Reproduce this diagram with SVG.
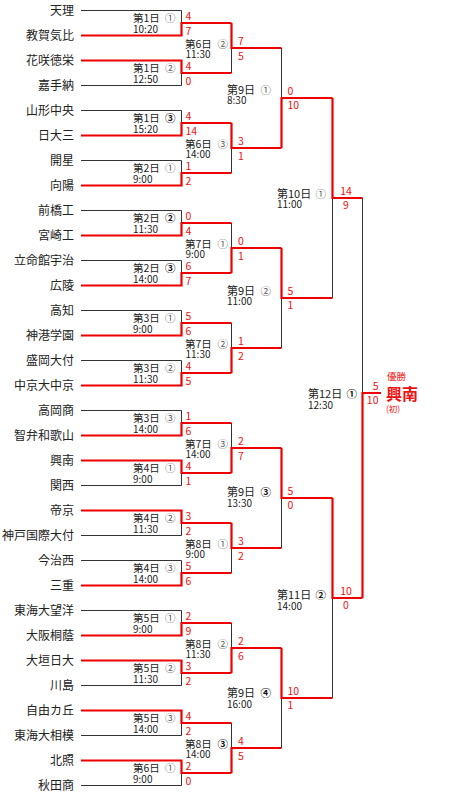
<svg xmlns="http://www.w3.org/2000/svg" width="474" height="798" viewBox="0 0 474 798">
<style>
text{font-family:"Noto Sans CJK JP","Noto Sans",sans-serif}
.bk{stroke:#333;stroke-width:1;fill:none}
.rd{stroke:#ee0000;stroke-width:2.2;fill:none}
.t{font-size:12px;fill:#222;text-anchor:end}
.m1{font-size:10.5px;fill:#222}
.m2{font-size:11px;fill:#222}
.tm{font-size:10px;fill:#222}
.c{fill:#555;font-size:10.5px}
.cb{fill:#111;font-size:10.5px;font-weight:bold}
.s{font-size:10.5px;fill:#ee1111}
.sm{font-size:10.5px;fill:#ee1111;text-anchor:middle}
.se{font-size:10.5px;fill:#ee1111;text-anchor:end}
.w{fill:#ee1111}
</style>
<rect width="474" height="798" fill="#fff"/>
<g id="connectors">
<g class="bk">
<path d="M81 10.5H181.5V23M81 85.5H181.5V73M81 110.5H181.5V123M81 160.5H181.5V173M81 210.5H181.5V223M81 260.5H181.5V273M81 310.5H181.5V323M81 360.5H181.5V373M81 410.5H181.5V423M81 485.5H181.5V473M81 535.5H181.5V523M81 560.5H181.5V573M81 610.5H181.5V623M81 685.5H181.5V673M81 735.5H181.5V723M81 785.5H181.5V773"/>
<path d="M231.5 73V48M231.5 173V148M231.5 223V248M231.5 323V348M231.5 423V448M231.5 573V548M231.5 623V648M231.5 723V748"/>
<path d="M281.5 48V98M281.5 348V298M281.5 548V498M281.5 748V698"/>
<path d="M332.5 298V198M332.5 698V598M362.5 198V393"/>
</g>
<g class="rd">
<path d="M81 35.5H181.5V23H231.5M81 60.5H181.5V73H231.5M81 135.5H181.5V123H231.5M81 185.5H181.5V173H231.5M81 235.5H181.5V223H231.5M81 285.5H181.5V273H231.5M81 335.5H181.5V323H231.5M81 385.5H181.5V373H231.5M81 435.5H181.5V423H231.5M81 460.5H181.5V473H231.5M81 510.5H181.5V523H231.5M81 585.5H181.5V573H231.5M81 635.5H181.5V623H231.5M81 660.5H181.5V673H231.5M81 710.5H181.5V723H231.5M81 760.5H181.5V773H231.5"/>
<path d="M231.5 23V48H281.5M231.5 123V148H281.5M231.5 273V248H281.5M231.5 373V348H281.5M231.5 473V448H281.5M231.5 523V548H281.5M231.5 673V648H281.5M231.5 773V748H281.5"/>
<path d="M281.5 148V98H332.5M281.5 248V298H332.5M281.5 448V498H332.5M281.5 648V698H332.5"/>
<path d="M332.5 98V198H362.5M332.5 498V598H362.5M362.5 598V393H381"/>
</g>
</g>
<g id="teams">
<g id="team-1"><text class="t" x="74" y="15">天理</text></g>
<g id="team-2"><text class="t" x="74" y="40">教賀気比</text></g>
<g id="team-3"><text class="t" x="74" y="65">花咲徳栄</text></g>
<g id="team-4"><text class="t" x="74" y="90">嘉手納</text></g>
<g id="team-5"><text class="t" x="74" y="115">山形中央</text></g>
<g id="team-6"><text class="t" x="74" y="140">日大三</text></g>
<g id="team-7"><text class="t" x="74" y="165">開星</text></g>
<g id="team-8"><text class="t" x="74" y="190">向陽</text></g>
<g id="team-9"><text class="t" x="74" y="215">前橋工</text></g>
<g id="team-10"><text class="t" x="74" y="240">宮崎工</text></g>
<g id="team-11"><text class="t" x="74" y="265">立命館宇治</text></g>
<g id="team-12"><text class="t" x="74" y="290">広陵</text></g>
<g id="team-13"><text class="t" x="74" y="315">高知</text></g>
<g id="team-14"><text class="t" x="74" y="340">神港学園</text></g>
<g id="team-15"><text class="t" x="74" y="365">盛岡大付</text></g>
<g id="team-16"><text class="t" x="74" y="390">中京大中京</text></g>
<g id="team-17"><text class="t" x="74" y="415">高岡商</text></g>
<g id="team-18"><text class="t" x="74" y="440">智弁和歌山</text></g>
<g id="team-19"><text class="t" x="74" y="465">興南</text></g>
<g id="team-20"><text class="t" x="74" y="490">関西</text></g>
<g id="team-21"><text class="t" x="74" y="515">帝京</text></g>
<g id="team-22"><text class="t" x="74" y="540">神戸国際大付</text></g>
<g id="team-23"><text class="t" x="74" y="565">今治西</text></g>
<g id="team-24"><text class="t" x="74" y="590">三重</text></g>
<g id="team-25"><text class="t" x="74" y="615">東海大望洋</text></g>
<g id="team-26"><text class="t" x="74" y="640">大阪桐蔭</text></g>
<g id="team-27"><text class="t" x="74" y="665">大垣日大</text></g>
<g id="team-28"><text class="t" x="74" y="690">川島</text></g>
<g id="team-29"><text class="t" x="74" y="715">自由カ丘</text></g>
<g id="team-30"><text class="t" x="74" y="740">東海大相模</text></g>
<g id="team-31"><text class="t" x="74" y="765">北照</text></g>
<g id="team-32"><text class="t" x="74" y="790">秋田商</text></g>
</g>
<g id="round1">
<g id="r1-1"><text class="m1" x="133" y="21.5">第1日<tspan class="c" x="165">①</tspan></text><text class="tm" x="133" y="32.5">10:20</text><text class="s" x="185.5" y="19.5">4</text><text class="s" x="185.5" y="34.5">7</text></g>
<g id="r1-2"><text class="m1" x="133" y="71.5">第1日<tspan class="c" x="165">②</tspan></text><text class="tm" x="133" y="82.5">12:50</text><text class="s" x="185.5" y="69.5">4</text><text class="s" x="185.5" y="84.5">0</text></g>
<g id="r1-3"><text class="m1" x="133" y="121.5">第1日<tspan class="cb" x="165">③</tspan></text><text class="tm" x="133" y="132.5">15:20</text><text class="s" x="185.5" y="119.5">4</text><text class="s" x="185.5" y="134.5">14</text></g>
<g id="r1-4"><text class="m1" x="133" y="171.5">第2日<tspan class="c" x="165">①</tspan></text><text class="tm" x="133" y="182.5">9:00</text><text class="s" x="185.5" y="169.5">1</text><text class="s" x="185.5" y="184.5">2</text></g>
<g id="r1-5"><text class="m1" x="133" y="221.5">第2日<tspan class="cb" x="165">②</tspan></text><text class="tm" x="133" y="232.5">11:30</text><text class="s" x="185.5" y="219.5">0</text><text class="s" x="185.5" y="234.5">4</text></g>
<g id="r1-6"><text class="m1" x="133" y="271.5">第2日<tspan class="cb" x="165">③</tspan></text><text class="tm" x="133" y="282.5">14:00</text><text class="s" x="185.5" y="269.5">6</text><text class="s" x="185.5" y="284.5">7</text></g>
<g id="r1-7"><text class="m1" x="133" y="321.5">第3日<tspan class="c" x="165">①</tspan></text><text class="tm" x="133" y="332.5">9:00</text><text class="s" x="185.5" y="319.5">5</text><text class="s" x="185.5" y="334.5">6</text></g>
<g id="r1-8"><text class="m1" x="133" y="371.5">第3日<tspan class="c" x="165">②</tspan></text><text class="tm" x="133" y="382.5">11:30</text><text class="s" x="185.5" y="369.5">4</text><text class="s" x="185.5" y="384.5">5</text></g>
<g id="r1-9"><text class="m1" x="133" y="421.5">第3日<tspan class="c" x="165">③</tspan></text><text class="tm" x="133" y="432.5">14:00</text><text class="s" x="185.5" y="419.5">1</text><text class="s" x="185.5" y="434.5">6</text></g>
<g id="r1-10"><text class="m1" x="133" y="471.5">第4日<tspan class="c" x="165">①</tspan></text><text class="tm" x="133" y="482.5">9:00</text><text class="s" x="185.5" y="469.5">4</text><text class="s" x="185.5" y="484.5">1</text></g>
<g id="r1-11"><text class="m1" x="133" y="521.5">第4日<tspan class="c" x="165">②</tspan></text><text class="tm" x="133" y="532.5">11:30</text><text class="s" x="185.5" y="519.5">3</text><text class="s" x="185.5" y="534.5">2</text></g>
<g id="r1-12"><text class="m1" x="133" y="571.5">第4日<tspan class="c" x="165">③</tspan></text><text class="tm" x="133" y="582.5">14:00</text><text class="s" x="185.5" y="569.5">5</text><text class="s" x="185.5" y="584.5">6</text></g>
<g id="r1-13"><text class="m1" x="133" y="621.5">第5日<tspan class="c" x="165">①</tspan></text><text class="tm" x="133" y="632.5">9:00</text><text class="s" x="185.5" y="619.5">2</text><text class="s" x="185.5" y="634.5">9</text></g>
<g id="r1-14"><text class="m1" x="133" y="671.5">第5日<tspan class="c" x="165">②</tspan></text><text class="tm" x="133" y="682.5">11:30</text><text class="s" x="185.5" y="669.5">3</text><text class="s" x="185.5" y="684.5">2</text></g>
<g id="r1-15"><text class="m1" x="133" y="721.5">第5日<tspan class="c" x="165">③</tspan></text><text class="tm" x="133" y="732.5">14:00</text><text class="s" x="185.5" y="719.5">4</text><text class="s" x="185.5" y="734.5">2</text></g>
<g id="r1-16"><text class="m1" x="133" y="771.5">第6日<tspan class="c" x="165">①</tspan></text><text class="tm" x="133" y="782.5">9:00</text><text class="s" x="185.5" y="769.5">2</text><text class="s" x="185.5" y="784.5">0</text></g>
</g>
<g id="round2">
<g id="r2-1"><text class="m1" x="185" y="47.5">第6日<tspan class="c" x="217.5">②</tspan></text><text class="tm" x="185.5" y="57.5">11:30</text><text class="s" x="238" y="44.5">7</text><text class="s" x="238" y="59.5">5</text></g>
<g id="r2-2"><text class="m1" x="185" y="147.5">第6日<tspan class="c" x="217.5">③</tspan></text><text class="tm" x="185.5" y="157.5">14:00</text><text class="s" x="238" y="144.5">3</text><text class="s" x="238" y="159.5">1</text></g>
<g id="r2-3"><text class="m1" x="185" y="247.5">第7日<tspan class="c" x="217.5">①</tspan></text><text class="tm" x="185.5" y="257.5">9:00</text><text class="s" x="238" y="244.5">0</text><text class="s" x="238" y="259.5">1</text></g>
<g id="r2-4"><text class="m1" x="185" y="347.5">第7日<tspan class="c" x="217.5">②</tspan></text><text class="tm" x="185.5" y="357.5">11:30</text><text class="s" x="238" y="344.5">1</text><text class="s" x="238" y="359.5">2</text></g>
<g id="r2-5"><text class="m1" x="185" y="447.5">第7日<tspan class="c" x="217.5">③</tspan></text><text class="tm" x="185.5" y="457.5">14:00</text><text class="s" x="238" y="444.5">2</text><text class="s" x="238" y="459.5">7</text></g>
<g id="r2-6"><text class="m1" x="185" y="547.5">第8日<tspan class="c" x="217.5">①</tspan></text><text class="tm" x="185.5" y="557.5">9:00</text><text class="s" x="238" y="544.5">3</text><text class="s" x="238" y="559.5">2</text></g>
<g id="r2-7"><text class="m1" x="185" y="647.5">第8日<tspan class="c" x="217.5">②</tspan></text><text class="tm" x="185.5" y="657.5">11:30</text><text class="s" x="238" y="644.5">2</text><text class="s" x="238" y="659.5">6</text></g>
<g id="r2-8"><text class="m1" x="185" y="747.5">第8日<tspan class="cb" x="217.5">③</tspan></text><text class="tm" x="185.5" y="757.5">14:00</text><text class="s" x="238" y="744.5">4</text><text class="s" x="238" y="759.5">5</text></g>
</g>
<g id="round3">
<g id="r3-1"><text class="m2" x="227" y="94">第9日<tspan class="c" x="260.5">①</tspan></text><text class="tm" x="227" y="103.5">8:30</text><text class="s" x="287.5" y="94.5">0</text><text class="s" x="287.5" y="109">10</text></g>
<g id="r3-2"><text class="m2" x="227" y="294.5">第9日<tspan class="c" x="260.5">②</tspan></text><text class="tm" x="227" y="305">11:00</text><text class="s" x="287.5" y="294.5">5</text><text class="s" x="287.5" y="309">1</text></g>
<g id="r3-3"><text class="m2" x="227" y="496">第9日<tspan class="cb" x="260.5">③</tspan></text><text class="tm" x="227" y="506.5">13:30</text><text class="s" x="287.5" y="494.5">5</text><text class="s" x="287.5" y="509">0</text></g>
<g id="r3-4"><text class="m2" x="227" y="697">第9日<tspan class="cb" x="260.5">④</tspan></text><text class="tm" x="227" y="707.5">16:00</text><text class="s" x="287.5" y="694.5">10</text><text class="s" x="287.5" y="709">1</text></g>
</g>
<g id="round4">
<g id="r4-1"><text class="m2" x="277" y="197.5">第10日<tspan class="c" x="315.5">①</tspan></text><text class="tm" x="277" y="208">11:00</text><text class="sm" x="346" y="194.5">14</text><text class="sm" x="346" y="209">9</text></g>
<g id="r4-2"><text class="m2" x="277" y="598.5">第11日<tspan class="cb" x="315.5">②</tspan></text><text class="tm" x="277" y="610">14:00</text><text class="sm" x="346" y="594.5">10</text><text class="sm" x="346" y="609">0</text></g>
</g>
<g id="final">
<text class="m2" x="308" y="398">第12日<tspan class="cb" x="346.5">①</tspan></text><text class="tm" x="308" y="409">12:30</text>
<text class="se" x="378.5" y="390">5</text><text class="se" x="378.5" y="404">10</text>
</g>
<g id="champion">
<text class="w" x="387" y="380" font-size="9.5">優勝</text>
<text class="w" x="386" y="400" font-size="16" font-weight="bold">興南</text>
<text class="w" x="386" y="412" font-size="8.5">(初)</text>
</g>
</svg>
